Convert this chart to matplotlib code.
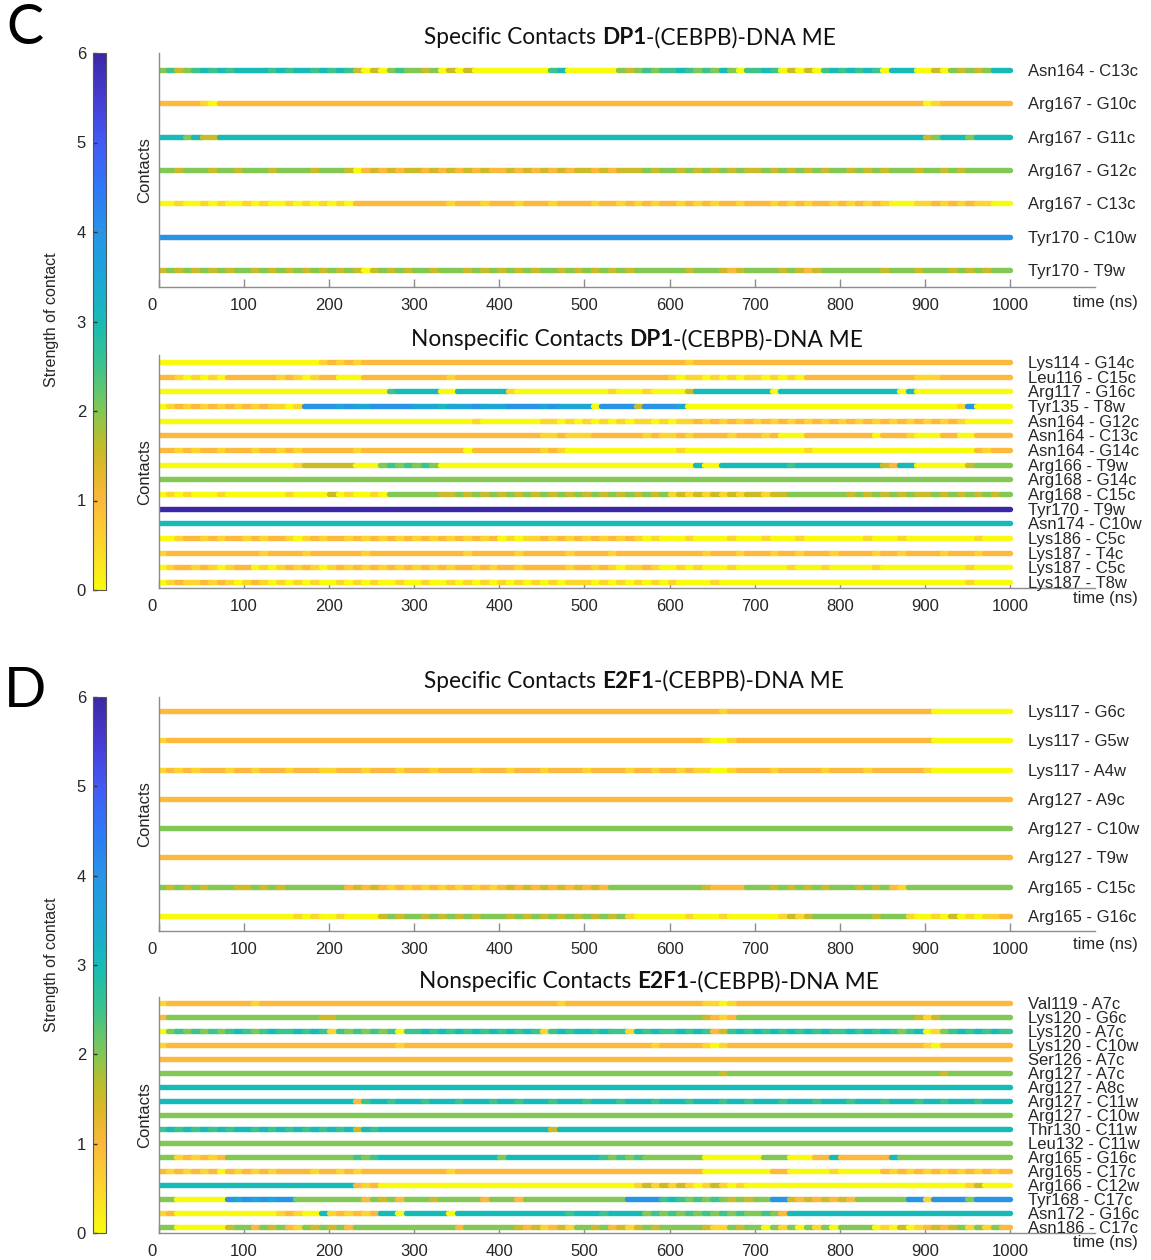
import numpy as np
import matplotlib
matplotlib.use("Agg")
import matplotlib.pyplot as plt
from matplotlib.collections import LineCollection
from matplotlib.colors import LinearSegmentedColormap, Normalize
from matplotlib.cm import ScalarMappable
from matplotlib.transforms import ScaledTranslation

# ---------------- data ----------------
# Each contact: strength per 10 ns bin (0-1000 ns); every character is strength*2 in hex (c = 6).
time_max_ns = 1000
x_ticks = list(range(0, 1001, 100))
strength_ticks = [0, 1, 2, 3, 4, 5, 6]

c_spec_labels = ["Asn164 - C13c", "Arg167 - G10c", "Arg167 - G11c", "Arg167 - G12c",
                 "Arg167 - C13c", "Tyr170 - C10w", "Tyr170 - T9w"]
c_spec_levels = [
    "4534565656 6665656656 5653030454 4340303000 0000005600 0000434545 5654546405 5650303056 5656506660 0304343466",
    "2222210222 2222222222 2222222222 2222222222 2222222222 2222222222 2222222222 2222222222 2222222222 0122222222",
    "6664633666 6666666666 6666666666 6666666666 6666666666 6666666666 6666666666 6666666666 6666666666 3466646666",
    "4434443443 4443444434 4430232323 3232323232 2323232323 3232333434 4343434343 3434343434 4343434443 4434344444",
    "0010010100 1010010101 0102222222 2222122212 2212221222 2122121212 2121212212 2212121221 2121210001 1212121100",
    "8888888888 8888888888 8888888888 8888888888 8888888888 8888888888 8888888888 8888888888 8888888888 8888888888",
    "3434343434 4343434343 4343034343 4434443434 3434344343 4343434444 4434443234 4443432344 4444434443 4443434344",
]

c_nonspec_labels = ["Lys114 - G14c", "Leu116 - C15c", "Arg117 - G16c", "Tyr135 - T8w",
                    "Asn164 - G12c", "Asn164 - C13c", "Asn164 - G14c", "Arg166 - T9w",
                    "Arg168 - G14c", "Arg168 - C15c", "Tyr170 - T9w", "Asn174 - C10w",
                    "Lys186 - C5c", "Lys187 - T4c", "Lys187 - C5c", "Lys187 - T8w"]
c_nonspec_levels = [
    "0000000000 0000000001 2121222222 2222222222 2222222222 2222222222 2212222222 2222222222 2222222222 2222222222",
    "2210101022 2222121012 2000222222 2222122222 2222222222 2222222222 1011010101 1010102222 2222222221 1122222222",
    "0000000000 0000000000 0000000566 6660066666 6100000000 0001000100 0036666666 6606666666 6666666060 0000000000",
    "0121212121 2121101888 8787788888 7776777877 7888878777 7088883888 8700000000 0000000000 0000000000 0000180000",
    "0000000000 0000000000 0000000000 0000000100 0000011010 1010101101 0112121212 1212121212 1212121212 1212100000",
    "2222222222 2222222222 2222222222 2222222222 2222211211 1222222121 1212222122 2120002222 2222022210 0022002222",
    "2212122122 2122121222 2221222222 2222220222 2222212100 0000000000 0100000000 0000001000 0000000000 0000002122",
    "0000000000 0000001333 3330004545 4540000000 0000000000 0000000000 0006006666 6666566666 6666632660 0000034444",
    "4444444444 4444444444 4444444444 4444444444 4444444444 4444444444 4444444444 4444444444 4444444444 4444444444",
    "0101000100 0000010000 3010010444 4443343434 3434343434 3434343434 1313131313 3133444444 4343434343 3434343434",
    "cccccccccc cccccccccc cccccccccc cccccccccc cccccccccc cccccccccc cccccccccc cccccccccc cccccccccc cccccccccc",
    "6666666666 6666666666 6666666666 6666666666 6666666666 6666666666 6666666666 6666666666 6666666666 6666666666",
    "0012212122 1212210121 2212121212 1212121212 0101121212 1212121010 0010000100 0100010000 0001000100 0000001000",
    "1222222222 2212222122 2222122222 2222221222 2212222212 2221222222 2222122212 2212212221 2222122122 2212221222",
    "0122121012 2010121210 1212121212 1212122121 2212222212 2121011210 0101000100 0000100010 0000100000 0000010000",
    "0121121210 1210101010 0101010010 0100101010 1010101011 1010101010 1000010000 0000000000 0000000000 0000010000",
]

d_spec_labels = ["Lys117 - G6c", "Lys117 - G5w", "Lys117 - A4w", "Arg127 - A9c",
                 "Arg127 - C10w", "Arg127 - T9w", "Arg165 - C15c", "Arg165 - G16c"]
d_spec_levels = [
    "2222222222 2222222222 2222222222 2222222222 2222222222 2222222222 2222221222 2222222222 2222222222 2000000000",
    "1222222222 2222222222 2222222222 2222222222 2222222222 2222222222 2222100122 2222222222 2222222222 2000000000",
    "1212122212 2122212221 1222122212 2212222122 2122212222 1222212212 2121100122 2212222212 2221222222 1000000000",
    "2222222222 2222222222 2222222222 2222222222 2222222222 2222222222 2222222222 2222222222 2222222222 2222222222",
    "4444444444 4444444444 4444444444 4444444444 4444444444 4444444444 4444444444 4444444444 4444444444 4444444444",
    "2222222222 2222222222 2222222222 2222222222 2222222222 2222222222 2222222222 2222222222 2222222222 2222222222",
    "4343434443 3434344444 4423232121 2121212121 2323232323 2324444444 4444322224 4434343434 4434342144 4444444444",
    "0000000000 0000001010 0100003434 4343434344 4343434343 4343410000 0010001000 0001313444 4444344410 0103010112",
]

d_nonspec_labels = ["Val119 - A7c", "Lys120 - G6c", "Lys120 - A7c", "Lys120 - C10w",
                    "Ser126 - A7c", "Arg127 - A7c", "Arg127 - A8c", "Arg127 - C11w",
                    "Arg127 - C10w", "Thr130 - C11w", "Leu132 - C11w", "Arg165 - G16c",
                    "Arg165 - C17c", "Arg166 - C12w", "Tyr168 - C17c", "Asn172 - G16c",
                    "Asn186 - C17c"]
d_nonspec_levels = [
    "1222222222 2122222222 2222222222 2222222222 2222222122 2222222222 2222110122 2222222222 2222222222 2222222222",
    "2444444444 4444444443 3444444444 4444444444 4444444444 4444444444 4444321244 4444444444 4444444443 1344444444",
    "0454545456 5456556565 1545454505 5656565656 5656515656 6565516565 5656523565 6565656565 5656565456 0145656565",
    "1222222222 2222222222 2222222212 2222222222 2222222222 2222222212 2222101222 2222222222 2222222222 1022222222",
    "2222222222 2222222222 2222222222 2222222222 2222222222 2222222222 2222222222 2222222222 2222222222 2222222222",
    "4444444444 4444444444 4444444444 4444444444 4444444444 4444444444 4444443444 4444444444 4444444444 4434444444",
    "6666666666 6666666666 6666666666 6666666666 6666666666 6666666666 6666666666 6666666666 6666666666 6666666666",
    "6666666666 6666666666 6662566566 6566656665 6656665666 5666566656 6656665665 6665666566 6566656665 6656665666",
    "4444444444 4444444444 4444444444 4444444444 4444444444 4444444444 4444444444 4444444444 4444444444 4444444444",
    "5656565656 6565656565 6563656666 6666666666 6666663666 6666666666 6666666666 6666666666 6666666666 6666666666",
    "4444444444 4444444444 4444444444 4444444444 4444444444 4444444444 4444444444 4444444444 4444444444 4444444444",
    "4412121244 4444444444 4445456666 6666666666 4666666666 6654545444 4444000000 0444000226 2222226444 4444444444",
    "2121212021 2121222212 2121222222 2222122222 2222222222 2222222222 2222000000 0022000001 0000021212 1212121212",
    "6666666666 6666666666 6662120000 0000000000 0000000000 0000001313 1310131010 0000000000 0000000000 0000013000",
    "4400000087 8787884444 4444243424 4434444424 4424444444 4444488885 6545454343 4488323232 3244444488 1888848888",
    "1200000000 0000121006 1212126606 6666066666 6666666656 6656666454 5454545454 4542666666 6666666666 6666666666",
    "4400000034 4243421434 3424444444 4444424444 4432312314 4342313434 4444311434 4041404140 4444010301 2323414142",
]

# ---------------- style ----------------
W, H = 1151, 1260
TXT = "#262626"
AXC = "#8c8c8c"
SANS = ["Liberation Sans", "DejaVu Sans"]
TITLE_FONT = ["Lato", "DejaVu Sans"]

cmap = LinearSegmentedColormap.from_list("parula_r", [
    (0.0 / 6, (249 / 255, 251 / 255, 14 / 255)),
    (0.5 / 6, (252 / 255, 214 / 255, 45 / 255)),
    (1.0 / 6, (252 / 255, 184 / 255, 60 / 255)),
    (1.35 / 6, (222 / 255, 184 / 255, 40 / 255)),
    (1.65 / 6, (188 / 255, 189 / 255, 42 / 255)),
    (2.0 / 6, (130 / 255, 200 / 255, 85 / 255)),
    (2.5 / 6, (60 / 255, 195 / 255, 140 / 255)),
    (3.0 / 6, (22 / 255, 187 / 255, 182 / 255)),
    (3.5 / 6, (28 / 255, 166 / 255, 214 / 255)),
    (4.0 / 6, (40 / 255, 148 / 255, 230 / 255)),
    (4.5 / 6, (47 / 255, 120 / 255, 246 / 255)),
    (5.0 / 6, (66 / 255, 90 / 255, 246 / 255)),
    (5.5 / 6, (70 / 255, 60 / 255, 212 / 255)),
    (6.0 / 6, (60 / 255, 40 / 255, 165 / 255)),
])
norm = Normalize(vmin=0, vmax=6)

fig = plt.figure(figsize=(W / 100, H / 100), dpi=100)
fig.patch.set_facecolor("white")


def fx(px):
    return px / W


def fy(py):
    return 1 - py / H


def decode(s):
    return [int(ch, 16) / 2 for ch in s.replace(" ", "")]


def draw_panel(labels, levels, top, bottom, first, last, time_y, contacts_y):
    n = len(labels)
    ax = fig.add_axes([fx(159), fy(bottom), fx(1095) - fx(159), (bottom - top) / H])
    sp = (last - first) / (n - 1)
    ax.set_xlim(0, 1100)
    ax.set_ylim(1 - (bottom - last) / sp, n + (first - top) / sp)
    for i, (lab, s) in enumerate(zip(labels, levels)):
        y = n - i
        vals = decode(s)
        edges = np.linspace(0, time_max_ns, len(vals) + 1)
        segs, cols = [], []
        j = 0
        while j < len(vals):
            k = j
            while k + 1 < len(vals) and vals[k + 1] == vals[j]:
                k += 1
            segs.append([(edges[j], y), (edges[k + 1], y)])
            cols.append(cmap(norm(vals[j])))
            j = k + 1
        lc = LineCollection(segs, colors=cols, linewidths=3.9, capstyle="round")
        ax.add_collection(lc)
        ax.text(1021, y, lab, fontsize=12, family=SANS, color=TXT,
                ha="left", va="center_baseline", clip_on=False)
    for side in ["top", "right"]:
        ax.spines[side].set_visible(False)
    for side in ["left", "bottom"]:
        ax.spines[side].set_color(AXC)
        ax.spines[side].set_linewidth(1.0)
    ax.set_yticks([])
    ax.set_xticks(x_ticks)
    ax.set_xticklabels([str(t) for t in x_ticks])
    ax.tick_params(axis="x", direction="in", length=6, width=1, color=AXC,
                   labelsize=12, labelcolor=TXT, pad=8)
    for lbl in ax.get_xticklabels():
        lbl.set_family(SANS)
    first_lbl = ax.get_xticklabels()[0]
    first_lbl.set_transform(first_lbl.get_transform() +
                            ScaledTranslation(-7 / 100, 0, fig.dpi_scale_trans))
    fig.text(fx(1073), fy(time_y), "time (ns)", fontsize=12, family=SANS,
             color=TXT, ha="left", va="center")
    fig.text(fx(145), fy(contacts_y), "Contacts", fontsize=12, family=SANS,
             color=TXT, rotation=90, ha="center", va="center")
    return ax


def rich_title(cx, cy, parts, size=16.3):
    r = fig.canvas.get_renderer()
    probe1 = fig.text(0, 0, "x x", fontsize=size, family=TITLE_FONT)
    probe2 = fig.text(0, 0, "xx", fontsize=size, family=TITLE_FONT)
    space_w = probe1.get_window_extent(r).width - probe2.get_window_extent(r).width
    probe1.remove()
    probe2.remove()
    objs = []
    for txt, w in parts:
        if txt == " ":
            objs.append(None)
            continue
        objs.append(fig.text(0, fy(cy), txt, fontsize=size, fontweight=w,
                             family=TITLE_FONT, color="#111111", ha="left", va="center"))
    widths = [space_w if o is None else o.get_window_extent(r).width for o in objs]
    x = cx - sum(widths) / 2
    for o, wd in zip(objs, widths):
        if o is not None:
            o.set_x(fx(x))
        x += wd


def draw_colorbar(top, bottom, label_y):
    cax = fig.add_axes([fx(93), fy(bottom), fx(106) - fx(93), (bottom - top) / H])
    cb = fig.colorbar(ScalarMappable(norm=norm, cmap=cmap), cax=cax)
    cb.set_ticks(strength_ticks)
    cax.yaxis.set_ticks_position("left")
    cax.tick_params(direction="in", length=3, width=1, color="#333333",
                    labelsize=12, labelcolor=TXT, pad=5)
    for lbl in cax.get_yticklabels():
        lbl.set_family(SANS)
    cb.outline.set_edgecolor("#555555")
    cb.outline.set_linewidth(0.8)
    fig.text(fx(52), fy(label_y), "Strength of contact", fontsize=11.5, family=SANS,
             color=TXT, rotation=90, ha="center", va="center")


# ---------------- panel C ----------------
fig.text(fx(25), fy(29), "C", fontsize=40, family=TITLE_FONT, color="black",
         ha="center", va="center")
draw_colorbar(53, 590, 320)
draw_panel(c_spec_labels, c_spec_levels, 53, 287, 70, 270, 302, 170)
draw_panel(c_nonspec_labels, c_nonspec_levels, 355, 588, 362, 582, 599, 472)
rich_title(630, 38, [("Specific Contacts", "normal"), (" ", None), ("DP1", "bold"),
                     ("-(CEBPB)-DNA ME", "normal")])
rich_title(637, 340, [("Nonspecific Contacts", "normal"), (" ", None), ("DP1", "bold"),
                      ("-(CEBPB)-DNA ME", "normal")])

# ---------------- panel D ----------------
fig.text(fx(25), fy(691), "D", fontsize=40, family=TITLE_FONT, color="black",
         ha="center", va="center")
draw_colorbar(697, 1233, 965)
draw_panel(d_spec_labels, d_spec_levels, 697, 931, 711, 916, 944, 814)
draw_panel(d_nonspec_labels, d_nonspec_levels, 997, 1233, 1003, 1227, 1243, 1115)
rich_title(634, 681, [("Specific Contacts", "normal"), (" ", None), ("E2F1", "bold"),
                      ("-(CEBPB)-DNA ME", "normal")])
rich_title(649, 982, [("Nonspecific Contacts", "normal"), (" ", None), ("E2F1", "bold"),
                      ("-(CEBPB)-DNA ME", "normal")])

fig.savefig("out.png", dpi=100, facecolor="white")
